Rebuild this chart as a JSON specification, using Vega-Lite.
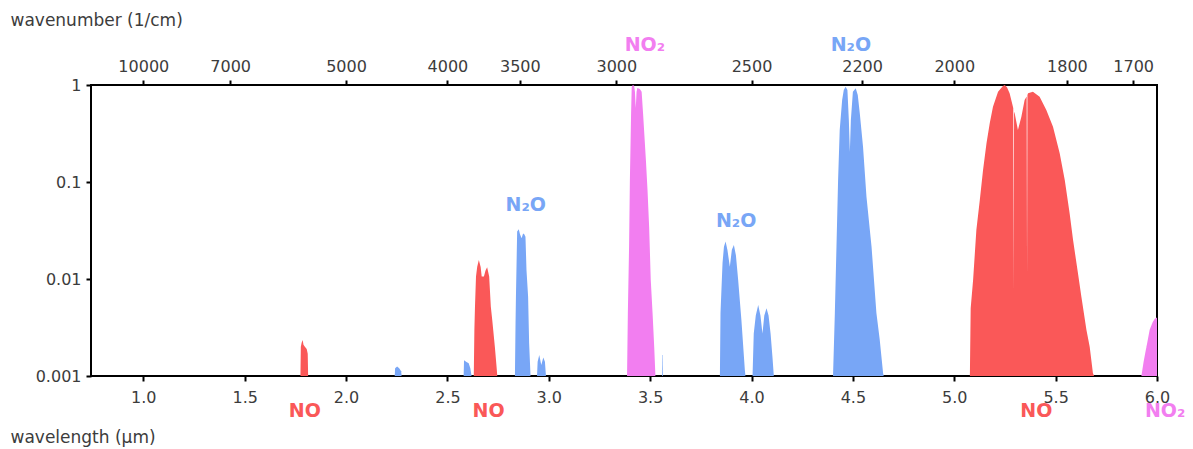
{
  "$schema": "https://vega.github.io/schema/vega-lite/v6.json",
  "width": 1066,
  "height": 291,
  "autosize": "none",
  "padding": {"left": 91, "top": 85, "right": 36, "bottom": 73},
  "background": "#ffffff",
  "datasets": {
    "bands": [
      {"band": "no18", "species": "NO", "lam": 1.775, "val": 0.001},
      {"band": "no18", "species": "NO", "lam": 1.777, "val": 0.002},
      {"band": "no18", "species": "NO", "lam": 1.781, "val": 0.0022},
      {"band": "no18", "species": "NO", "lam": 1.786, "val": 0.00235},
      {"band": "no18", "species": "NO", "lam": 1.79, "val": 0.0021},
      {"band": "no18", "species": "NO", "lam": 1.797, "val": 0.002},
      {"band": "no18", "species": "NO", "lam": 1.806, "val": 0.0019},
      {"band": "no18", "species": "NO", "lam": 1.811, "val": 0.0017},
      {"band": "no18", "species": "NO", "lam": 1.813, "val": 0.001},

      {"band": "n225", "species": "N2O", "lam": 2.24, "val": 0.001},
      {"band": "n225", "species": "N2O", "lam": 2.242, "val": 0.0012},
      {"band": "n225", "species": "N2O", "lam": 2.252, "val": 0.00125},
      {"band": "n225", "species": "N2O", "lam": 2.262, "val": 0.0012},
      {"band": "n225", "species": "N2O", "lam": 2.272, "val": 0.00112},
      {"band": "n225", "species": "N2O", "lam": 2.274, "val": 0.001},

      {"band": "n26", "species": "N2O", "lam": 2.58, "val": 0.001},
      {"band": "n26", "species": "N2O", "lam": 2.582, "val": 0.00145},
      {"band": "n26", "species": "N2O", "lam": 2.592, "val": 0.0014},
      {"band": "n26", "species": "N2O", "lam": 2.605, "val": 0.00135},
      {"band": "n26", "species": "N2O", "lam": 2.613, "val": 0.0012},
      {"band": "n26", "species": "N2O", "lam": 2.619, "val": 0.001},

      {"band": "no27", "species": "NO", "lam": 2.63, "val": 0.001},
      {"band": "no27", "species": "NO", "lam": 2.633, "val": 0.003},
      {"band": "no27", "species": "NO", "lam": 2.636, "val": 0.0052},
      {"band": "no27", "species": "NO", "lam": 2.641, "val": 0.0106},
      {"band": "no27", "species": "NO", "lam": 2.647, "val": 0.0134},
      {"band": "no27", "species": "NO", "lam": 2.655, "val": 0.0157},
      {"band": "no27", "species": "NO", "lam": 2.664, "val": 0.0133},
      {"band": "no27", "species": "NO", "lam": 2.669, "val": 0.0106},
      {"band": "no27", "species": "NO", "lam": 2.68, "val": 0.0106},
      {"band": "no27", "species": "NO", "lam": 2.688, "val": 0.0122},
      {"band": "no27", "species": "NO", "lam": 2.696, "val": 0.0132},
      {"band": "no27", "species": "NO", "lam": 2.706, "val": 0.0106},
      {"band": "no27", "species": "NO", "lam": 2.714, "val": 0.0052},
      {"band": "no27", "species": "NO", "lam": 2.721, "val": 0.0038},
      {"band": "no27", "species": "NO", "lam": 2.734, "val": 0.002},
      {"band": "no27", "species": "NO", "lam": 2.743, "val": 0.0012},
      {"band": "no27", "species": "NO", "lam": 2.746, "val": 0.001},

      {"band": "n287", "species": "N2O", "lam": 2.833, "val": 0.001},
      {"band": "n287", "species": "N2O", "lam": 2.836, "val": 0.0035},
      {"band": "n287", "species": "N2O", "lam": 2.838, "val": 0.0066},
      {"band": "n287", "species": "N2O", "lam": 2.844, "val": 0.0308},
      {"band": "n287", "species": "N2O", "lam": 2.852, "val": 0.0325},
      {"band": "n287", "species": "N2O", "lam": 2.858, "val": 0.029},
      {"band": "n287", "species": "N2O", "lam": 2.866, "val": 0.0263},
      {"band": "n287", "species": "N2O", "lam": 2.872, "val": 0.029},
      {"band": "n287", "species": "N2O", "lam": 2.877, "val": 0.0295},
      {"band": "n287", "species": "N2O", "lam": 2.885, "val": 0.0273},
      {"band": "n287", "species": "N2O", "lam": 2.89, "val": 0.0124},
      {"band": "n287", "species": "N2O", "lam": 2.898, "val": 0.0066},
      {"band": "n287", "species": "N2O", "lam": 2.903, "val": 0.0022},
      {"band": "n287", "species": "N2O", "lam": 2.91, "val": 0.001},

      {"band": "n295", "species": "N2O", "lam": 2.942, "val": 0.001},
      {"band": "n295", "species": "N2O", "lam": 2.945, "val": 0.0014},
      {"band": "n295", "species": "N2O", "lam": 2.953, "val": 0.00165},
      {"band": "n295", "species": "N2O", "lam": 2.963, "val": 0.0013},
      {"band": "n295", "species": "N2O", "lam": 2.973, "val": 0.00155},
      {"band": "n295", "species": "N2O", "lam": 2.981, "val": 0.0014},
      {"band": "n295", "species": "N2O", "lam": 2.986, "val": 0.001},

      {"band": "no2a", "species": "NO2", "lam": 3.386, "val": 0.001},
      {"band": "no2a", "species": "NO2", "lam": 3.39, "val": 0.00446},
      {"band": "no2a", "species": "NO2", "lam": 3.396, "val": 0.0214},
      {"band": "no2a", "species": "NO2", "lam": 3.4, "val": 0.105},
      {"band": "no2a", "species": "NO2", "lam": 3.403, "val": 0.23},
      {"band": "no2a", "species": "NO2", "lam": 3.406, "val": 0.514},
      {"band": "no2a", "species": "NO2", "lam": 3.409, "val": 0.95},
      {"band": "no2a", "species": "NO2", "lam": 3.414, "val": 1.0},
      {"band": "no2a", "species": "NO2", "lam": 3.421, "val": 0.98},
      {"band": "no2a", "species": "NO2", "lam": 3.425, "val": 0.85},
      {"band": "no2a", "species": "NO2", "lam": 3.429, "val": 0.58},
      {"band": "no2a", "species": "NO2", "lam": 3.433, "val": 0.85},
      {"band": "no2a", "species": "NO2", "lam": 3.437, "val": 0.93},
      {"band": "no2a", "species": "NO2", "lam": 3.449, "val": 0.91},
      {"band": "no2a", "species": "NO2", "lam": 3.458, "val": 0.85},
      {"band": "no2a", "species": "NO2", "lam": 3.465, "val": 0.51},
      {"band": "no2a", "species": "NO2", "lam": 3.479, "val": 0.169},
      {"band": "no2a", "species": "NO2", "lam": 3.487, "val": 0.0827},
      {"band": "no2a", "species": "NO2", "lam": 3.495, "val": 0.0346},
      {"band": "no2a", "species": "NO2", "lam": 3.503, "val": 0.00977},
      {"band": "no2a", "species": "NO2", "lam": 3.512, "val": 0.0044},
      {"band": "no2a", "species": "NO2", "lam": 3.52, "val": 0.002},
      {"band": "no2a", "species": "NO2", "lam": 3.526, "val": 0.001},

      {"band": "n356", "species": "N2O", "lam": 3.559, "val": 0.001},
      {"band": "n356", "species": "N2O", "lam": 3.56, "val": 0.00165},
      {"band": "n356", "species": "N2O", "lam": 3.562, "val": 0.00165},
      {"band": "n356", "species": "N2O", "lam": 3.563, "val": 0.001},

      {"band": "n39", "species": "N2O", "lam": 3.844, "val": 0.001},
      {"band": "n39", "species": "N2O", "lam": 3.847, "val": 0.00446},
      {"band": "n39", "species": "N2O", "lam": 3.857, "val": 0.0146},
      {"band": "n39", "species": "N2O", "lam": 3.864, "val": 0.0215},
      {"band": "n39", "species": "N2O", "lam": 3.872, "val": 0.0243},
      {"band": "n39", "species": "N2O", "lam": 3.881, "val": 0.02},
      {"band": "n39", "species": "N2O", "lam": 3.893, "val": 0.0134},
      {"band": "n39", "species": "N2O", "lam": 3.903, "val": 0.02},
      {"band": "n39", "species": "N2O", "lam": 3.913, "val": 0.0224},
      {"band": "n39", "species": "N2O", "lam": 3.923, "val": 0.0176},
      {"band": "n39", "species": "N2O", "lam": 3.934, "val": 0.0098},
      {"band": "n39", "species": "N2O", "lam": 3.95, "val": 0.0038},
      {"band": "n39", "species": "N2O", "lam": 3.967, "val": 0.00116},
      {"band": "n39", "species": "N2O", "lam": 3.97, "val": 0.001},

      {"band": "n405", "species": "N2O", "lam": 4.005, "val": 0.001},
      {"band": "n405", "species": "N2O", "lam": 4.011, "val": 0.00275},
      {"band": "n405", "species": "N2O", "lam": 4.021, "val": 0.0042},
      {"band": "n405", "species": "N2O", "lam": 4.033, "val": 0.0054},
      {"band": "n405", "species": "N2O", "lam": 4.044, "val": 0.0042},
      {"band": "n405", "species": "N2O", "lam": 4.054, "val": 0.00275},
      {"band": "n405", "species": "N2O", "lam": 4.063, "val": 0.0042},
      {"band": "n405", "species": "N2O", "lam": 4.074, "val": 0.005},
      {"band": "n405", "species": "N2O", "lam": 4.084, "val": 0.0042},
      {"band": "n405", "species": "N2O", "lam": 4.094, "val": 0.00275},
      {"band": "n405", "species": "N2O", "lam": 4.103, "val": 0.0016},
      {"band": "n405", "species": "N2O", "lam": 4.11, "val": 0.001},

      {"band": "n45", "species": "N2O", "lam": 4.402, "val": 0.001},
      {"band": "n45", "species": "N2O", "lam": 4.411, "val": 0.00446},
      {"band": "n45", "species": "N2O", "lam": 4.419, "val": 0.0215},
      {"band": "n45", "species": "N2O", "lam": 4.427, "val": 0.105},
      {"band": "n45", "species": "N2O", "lam": 4.435, "val": 0.344},
      {"band": "n45", "species": "N2O", "lam": 4.447, "val": 0.7},
      {"band": "n45", "species": "N2O", "lam": 4.455, "val": 0.89},
      {"band": "n45", "species": "N2O", "lam": 4.464, "val": 0.96},
      {"band": "n45", "species": "N2O", "lam": 4.473, "val": 0.89},
      {"band": "n45", "species": "N2O", "lam": 4.48, "val": 0.435},
      {"band": "n45", "species": "N2O", "lam": 4.485, "val": 0.205},
      {"band": "n45", "species": "N2O", "lam": 4.49, "val": 0.435},
      {"band": "n45", "species": "N2O", "lam": 4.5, "val": 0.85},
      {"band": "n45", "species": "N2O", "lam": 4.514, "val": 0.925},
      {"band": "n45", "species": "N2O", "lam": 4.524, "val": 0.79},
      {"band": "n45", "species": "N2O", "lam": 4.534, "val": 0.51},
      {"band": "n45", "species": "N2O", "lam": 4.55, "val": 0.231},
      {"band": "n45", "species": "N2O", "lam": 4.567, "val": 0.0705},
      {"band": "n45", "species": "N2O", "lam": 4.592, "val": 0.0215},
      {"band": "n45", "species": "N2O", "lam": 4.616, "val": 0.00446},
      {"band": "n45", "species": "N2O", "lam": 4.632, "val": 0.0024},
      {"band": "n45", "species": "N2O", "lam": 4.649, "val": 0.00107},
      {"band": "n45", "species": "N2O", "lam": 4.652, "val": 0.001},

      {"band": "no53", "species": "NO", "lam": 5.077, "val": 0.001},
      {"band": "no53", "species": "NO", "lam": 5.081, "val": 0.005},
      {"band": "no53", "species": "NO", "lam": 5.093, "val": 0.0098},
      {"band": "no53", "species": "NO", "lam": 5.109, "val": 0.032},
      {"band": "no53", "species": "NO", "lam": 5.126, "val": 0.0652},
      {"band": "no53", "species": "NO", "lam": 5.142, "val": 0.133},
      {"band": "no53", "species": "NO", "lam": 5.159, "val": 0.251},
      {"band": "no53", "species": "NO", "lam": 5.175, "val": 0.403},
      {"band": "no53", "species": "NO", "lam": 5.191, "val": 0.597},
      {"band": "no53", "species": "NO", "lam": 5.216, "val": 0.853},
      {"band": "no53", "species": "NO", "lam": 5.24, "val": 0.976},
      {"band": "no53", "species": "NO", "lam": 5.249, "val": 1.0},
      {"band": "no53", "species": "NO", "lam": 5.26, "val": 0.95},
      {"band": "no53", "species": "NO", "lam": 5.273, "val": 0.821},
      {"band": "no53", "species": "NO", "lam": 5.291, "val": 0.58},
      {"band": "no53", "species": "NO", "lam": 5.293, "val": 0.0072},
      {"band": "no53", "species": "NO", "lam": 5.295, "val": 0.53},
      {"band": "no53", "species": "NO", "lam": 5.298, "val": 0.511},
      {"band": "no53", "species": "NO", "lam": 5.314, "val": 0.344},
      {"band": "no53", "species": "NO", "lam": 5.331, "val": 0.471},
      {"band": "no53", "species": "NO", "lam": 5.347, "val": 0.7},
      {"band": "no53", "species": "NO", "lam": 5.357, "val": 0.76},
      {"band": "no53", "species": "NO", "lam": 5.359, "val": 0.0106},
      {"band": "no53", "species": "NO", "lam": 5.361, "val": 0.79},
      {"band": "no53", "species": "NO", "lam": 5.364, "val": 0.821},
      {"band": "no53", "species": "NO", "lam": 5.388, "val": 0.853},
      {"band": "no53", "species": "NO", "lam": 5.421, "val": 0.757},
      {"band": "no53", "species": "NO", "lam": 5.454, "val": 0.552},
      {"band": "no53", "species": "NO", "lam": 5.487, "val": 0.372},
      {"band": "no53", "species": "NO", "lam": 5.52, "val": 0.198},
      {"band": "no53", "species": "NO", "lam": 5.545, "val": 0.105},
      {"band": "no53", "species": "NO", "lam": 5.569, "val": 0.0476},
      {"band": "no53", "species": "NO", "lam": 5.586, "val": 0.0252},
      {"band": "no53", "species": "NO", "lam": 5.61, "val": 0.0115},
      {"band": "no53", "species": "NO", "lam": 5.627, "val": 0.00657},
      {"band": "no53", "species": "NO", "lam": 5.652, "val": 0.00298},
      {"band": "no53", "species": "NO", "lam": 5.668, "val": 0.002},
      {"band": "no53", "species": "NO", "lam": 5.684, "val": 0.00107},
      {"band": "no53", "species": "NO", "lam": 5.69, "val": 0.001},

      {"band": "no2b", "species": "NO2", "lam": 5.923, "val": 0.001},
      {"band": "no2b", "species": "NO2", "lam": 5.934, "val": 0.0014},
      {"band": "no2b", "species": "NO2", "lam": 5.948, "val": 0.002},
      {"band": "no2b", "species": "NO2", "lam": 5.964, "val": 0.003},
      {"band": "no2b", "species": "NO2", "lam": 5.979, "val": 0.0036},
      {"band": "no2b", "species": "NO2", "lam": 5.989, "val": 0.0039},
      {"band": "no2b", "species": "NO2", "lam": 6.0, "val": 0.004}
    ],
    "labels": [
      {"label": "NO", "species": "NO", "lam": 1.797, "val": 0.000436},
      {"label": "NO", "species": "NO", "lam": 2.703, "val": 0.000436},
      {"label": "NO", "species": "NO", "lam": 5.405, "val": 0.000436},
      {"label": "NO₂", "species": "NO2", "lam": 6.04, "val": 0.000436},
      {"label": "NO₂", "species": "NO2", "lam": 3.474, "val": 2.615},
      {"label": "N₂O", "species": "N2O", "lam": 4.49, "val": 2.6},
      {"label": "N₂O", "species": "N2O", "lam": 2.886, "val": 0.0579},
      {"label": "N₂O", "species": "N2O", "lam": 3.924, "val": 0.0398}
    ]
  },
  "resolve": {"axis": {"x": "independent", "y": "independent"}},
  "layer": [
    {
      "data": {"name": "bands"},
      "mark": {"type": "area", "interpolate": "linear", "clip": true},
      "encoding": {
        "x": {
          "field": "lam", "type": "quantitative",
          "scale": {"domain": [0.742, 6.0], "nice": false, "zero": false},
          "axis": {
            "orient": "bottom",
            "values": [1, 1.5, 2, 2.5, 3, 3.5, 4, 4.5, 5, 5.5, 6],
            "format": ".1f",
            "labelPadding": 8,
            "labelFlush": false,
            "labelOverlap": false,
            "title": "wavelength (µm)",
            "titleX": -81, "titleY": 61,
            "titleAlign": "left", "titleBaseline": "middle"
          }
        },
        "y": {
          "field": "val", "type": "quantitative", "stack": null,
          "scale": {"type": "log", "domain": [0.001, 1], "nice": false},
          "axis": {"orient": "left", "values": [0.001, 0.01, 0.1, 1], "format": "~g", "title": null, "labelPadding": 5, "labelOverlap": false, "labelFlush": false}
        },
        "y2": {"datum": 0.001},
        "color": {
          "field": "species", "type": "nominal",
          "scale": {"domain": ["NO", "N2O", "NO2"], "range": ["#fa5858", "#78a6f6", "#f27ef0"]},
          "legend": null
        },
        "detail": {"field": "band"}
      }
    },
    {
      "data": {"name": "labels"},
      "mark": {"type": "text", "font": "DejaVu Sans", "fontWeight": "bold", "fontSize": 19, "align": "center", "baseline": "middle"},
      "encoding": {
        "x": {
          "field": "lam", "type": "quantitative",
          "axis": {
            "orient": "top",
            "values": [1.0, 1.4285714, 2.0, 2.5, 2.8571429, 3.3333333, 4.0, 4.5454545, 5.0, 5.5555556, 5.8823529],
            "labelExpr": "format(10000 / datum.value, '.0f')",
            "labelPadding": 6,
            "labelFlush": false,
            "labelOverlap": false,
            "title": "wavenumber (1/cm)",
            "titleX": -81, "titleY": -65,
            "titleAlign": "left", "titleBaseline": "middle"
          }
        },
        "y": {"field": "val", "type": "quantitative", "axis": null},
        "text": {"field": "label"},
        "color": {"field": "species", "type": "nominal", "legend": null}
      }
    }
  ],
  "config": {
    "view": {"stroke": "#000000", "strokeWidth": 2},
    "axis": {
      "domain": false,
      "grid": false,
      "labelFont": "DejaVu Sans",
      "labelFontSize": 16,
      "labelColor": "#3c3c3c",
      "tickColor": "#000000",
      "tickWidth": 2,
      "tickSize": 5,
      "titleFont": "DejaVu Sans",
      "titleFontSize": 17,
      "titleFontWeight": "normal",
      "titleColor": "#3c3c3c"
    }
  }
}
